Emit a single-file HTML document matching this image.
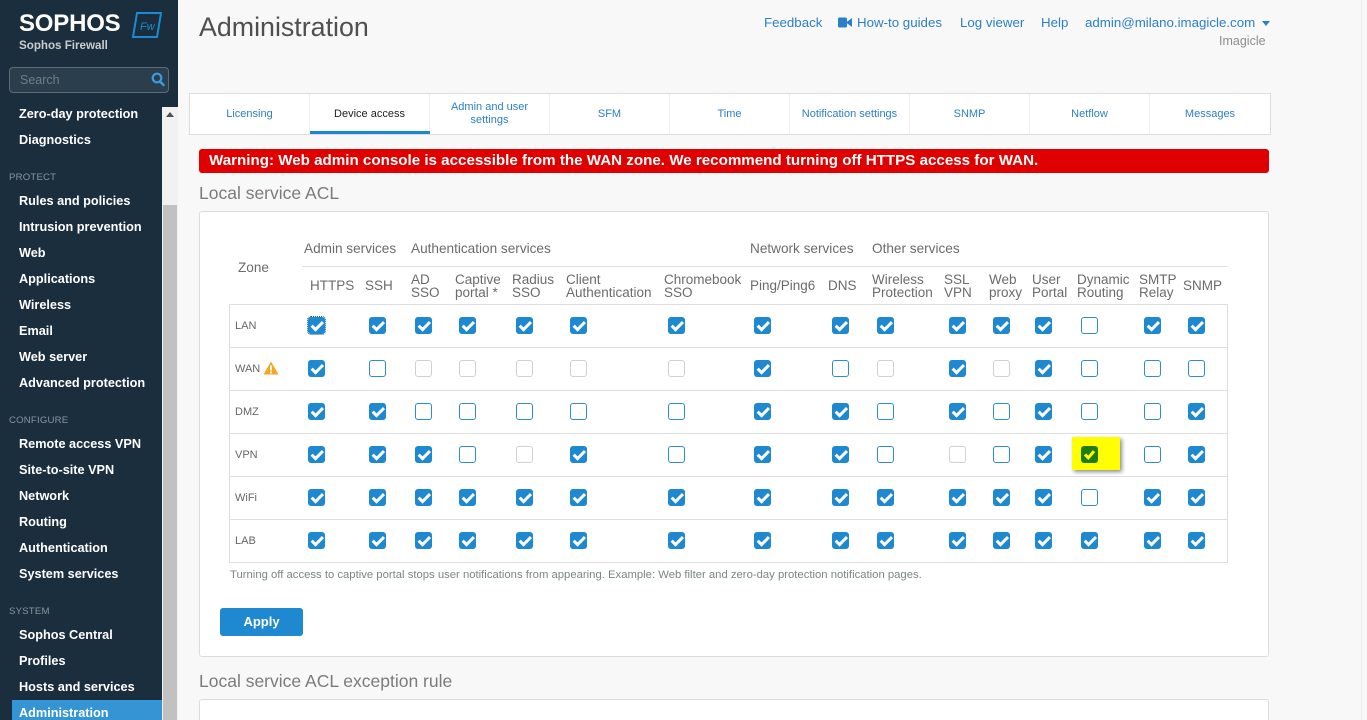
<!DOCTYPE html>
<html><head><meta charset="utf-8">
<style>
*{margin:0;padding:0;box-sizing:border-box}
html,body{width:1367px;height:720px;overflow:hidden;background:#f8f8f8;font-family:"Liberation Sans",Arial,sans-serif;position:relative}
.a{position:absolute;white-space:nowrap}
#side{position:absolute;left:0;top:0;width:162px;height:720px;background:#1b2e3d}
#sidetop{position:absolute;left:0;top:0;width:178px;height:107px;background:#1b2e3d}
.si{position:absolute;left:19px;color:#fff;font-weight:bold;font-size:12.7px;line-height:16px;white-space:nowrap;margin-top:1px}
.sh{position:absolute;left:9px;color:#8797a2;font-size:9.6px;line-height:12px;letter-spacing:0.2px;margin-top:1px}
.tab{position:absolute;top:94px;height:40px;width:120px;text-align:center;font-size:11px;color:#2b7fc5;display:flex;align-items:center;justify-content:center;line-height:13px;border-right:1px solid #f0f0f0}
.gh{position:absolute;font-size:13.6px;color:#6b6b6b;line-height:16px;white-space:nowrap}
.ch{position:absolute;font-size:13.5px;color:#6b6b6b;line-height:13px;white-space:nowrap}
.zl{position:absolute;left:235px;font-size:11px;color:#666;line-height:14px;margin-top:1px}
.hl{position:absolute;left:229px;width:998px;height:1px;background:#dedede}
.cb{position:absolute;width:17px;height:17px;border-radius:3px;display:block}
.on{background:#1e88d0}
.on::after{content:'';position:absolute;left:5.5px;top:2px;width:4px;height:8.5px;border:solid #fff;border-width:0 3px 3px 0;transform:rotate(45deg)}
.off{background:#fff;border:1.6px solid #2d8cd3}
.dis{background:#fff;border:1.6px solid #d0d0d0}
.c1{left:308px}.c2{left:369px}.c3{left:415px}.c4{left:459px}.c5{left:516px}.c6{left:570px}.c7{left:668px}.c8{left:754px}
.c9{left:832px}.c10{left:877px}.c11{left:949px}.c12{left:993px}.c13{left:1035px}.c14{left:1081px}.c15{left:1144px}.c16{left:1188px}
.r1{top:317px}.r2{top:360px}.r3{top:403px}.r4{top:446px}.r5{top:489px}.r6{top:532px}
.lk{position:absolute;top:15px;font-size:13.3px;color:#2b7fc9;line-height:16px;white-space:nowrap}
</style></head><body>

<!-- sidebar -->
<div id="sidetop"></div>
<div id="side"></div>
<div class="a" style="left:162px;top:107px;width:16px;height:613px;background:#f1f1f1"></div>
<div class="a" style="left:163px;top:205px;width:14px;height:515px;background:#c1c1c1"></div>
<div class="a" style="left:166px;top:112px;width:0;height:0;border-left:4px solid transparent;border-right:4px solid transparent;border-bottom:5px solid #505050"></div>

<div class="a" style="left:19px;top:9px;font-size:24px;font-weight:bold;color:#fff;line-height:30px;letter-spacing:-0.2px">SOPHOS</div>
<div class="a" style="left:19px;top:38px;font-size:11.6px;font-weight:bold;color:#c9cdd0;line-height:15px">Sophos Firewall</div>
<svg class="a" style="left:131px;top:11px" width="32" height="28" viewBox="0 0 32 28">
<polygon points="6,2 30,2 26,26 2,26" fill="none" stroke="#1c8ad6" stroke-width="2"/>
<text x="9" y="19" font-family="Liberation Sans" font-style="italic" font-size="11" fill="#1c8ad6">Fw</text>
</svg>
<div class="a" style="left:9px;top:67px;width:160px;height:26px;border:1px solid #5b6b77;border-radius:4px;background:#2b3e4c"></div>
<div class="a" style="left:20px;top:72px;font-size:12.5px;color:#6f7e89;line-height:16px">Search</div>
<svg class="a" style="left:151px;top:72px" width="14" height="15" viewBox="0 0 14 15"><circle cx="6" cy="6" r="4.3" fill="none" stroke="#3d9ae0" stroke-width="2.2"/><line x1="9" y1="9.5" x2="12.5" y2="13" stroke="#3d9ae0" stroke-width="2.6" stroke-linecap="round"/></svg>

<div class="si" style="top:105px">Zero-day protection</div>
<div class="si" style="top:131px">Diagnostics</div>
<div class="sh" style="top:171px">PROTECT</div>
<div class="si" style="top:192px">Rules and policies</div>
<div class="si" style="top:218px">Intrusion prevention</div>
<div class="si" style="top:244px">Web</div>
<div class="si" style="top:270px">Applications</div>
<div class="si" style="top:296px">Wireless</div>
<div class="si" style="top:322px">Email</div>
<div class="si" style="top:348px">Web server</div>
<div class="si" style="top:374px">Advanced protection</div>
<div class="sh" style="top:414px">CONFIGURE</div>
<div class="si" style="top:435px">Remote access VPN</div>
<div class="si" style="top:461px">Site-to-site VPN</div>
<div class="si" style="top:487px">Network</div>
<div class="si" style="top:513px">Routing</div>
<div class="si" style="top:539px">Authentication</div>
<div class="si" style="top:565px">System services</div>
<div class="sh" style="top:605px">SYSTEM</div>
<div class="si" style="top:626px">Sophos Central</div>
<div class="si" style="top:652px">Profiles</div>
<div class="si" style="top:678px">Hosts and services</div>
<div class="a" style="left:12px;top:700px;width:150px;height:20px;background:#3594d3"></div>
<div class="si" style="top:704px">Administration</div>

<!-- header -->
<div class="a" style="left:199px;top:11px;font-size:26.8px;color:#4f4f4f;line-height:32px">Administration</div>
<div class="lk" style="left:764px">Feedback</div>
<svg class="a" style="left:838px;top:17px" width="14" height="11" viewBox="0 0 14 11"><rect x="0" y="0.5" width="9" height="10" rx="1.5" fill="#2b7fc9"/><polygon points="8,5.5 14,1 14,10" fill="#2b7fc9"/></svg>
<div class="lk" style="left:857px">How-to guides</div>
<div class="lk" style="left:960px">Log viewer</div>
<div class="lk" style="left:1041px">Help</div>
<div class="lk" style="left:1085px">admin@milano.imagicle.com</div>
<div class="a" style="left:1262px;top:21px;width:0;height:0;border-left:4px solid transparent;border-right:4px solid transparent;border-top:5px solid #2b7fc9"></div>
<div class="a" style="left:1219px;top:33px;font-size:12.5px;color:#8c8c8c;line-height:16px">Imagicle</div>

<!-- tabs -->
<div class="a" style="left:189px;top:93px;width:1082px;height:42px;background:#fff;border:1px solid #dcdcdc"></div>
<div class="tab" style="left:190px">Licensing</div>
<div class="tab" style="left:310px;color:#222">Device access</div>
<div class="a" style="left:310px;top:131px;width:120px;height:3px;background:#1a87cf"></div>
<div class="tab" style="left:430px">Admin and user<br>settings</div>
<div class="tab" style="left:550px">SFM</div>
<div class="tab" style="left:670px">Time</div>
<div class="tab" style="left:790px">Notification settings</div>
<div class="tab" style="left:910px">SNMP</div>
<div class="tab" style="left:1030px">Netflow</div>
<div class="tab" style="left:1150px;border-right:none">Messages</div>

<!-- warning -->
<div class="a" style="left:199px;top:149px;width:1070px;height:24px;background:#e00000;border-radius:3px"></div>
<div class="a" style="left:209px;top:152px;font-size:15.15px;font-weight:bold;color:#fff;line-height:18px;letter-spacing:0px">Warning: Web admin console is accessible from the WAN zone. We recommend turning off HTTPS access for WAN.</div>

<div class="a" style="left:199px;top:182px;font-size:17.5px;color:#7b7b7b;line-height:22px">Local service ACL</div>

<!-- panel -->
<div class="a" style="left:199px;top:211px;width:1070px;height:446px;background:#fff;border:1px solid #dcdcdc;border-radius:3px"></div>

<div class="gh" style="left:238px;top:260px">Zone</div>
<div class="gh" style="left:304px;top:241px">Admin services</div>
<div class="gh" style="left:411px;top:241px">Authentication services</div>
<div class="gh" style="left:750px;top:241px">Network services</div>
<div class="gh" style="left:872px;top:241px">Other services</div>
<div class="a" style="left:302px;top:266px;width:925px;height:1px;background:#dedede"></div>

<div class="ch" style="left:310px;top:279px">HTTPS</div>
<div class="ch" style="left:365px;top:279px">SSH</div>
<div class="ch" style="left:411px;top:273px">AD<br>SSO</div>
<div class="ch" style="left:455px;top:273px">Captive<br>portal *</div>
<div class="ch" style="left:512px;top:273px">Radius<br>SSO</div>
<div class="ch" style="left:566px;top:273px">Client<br>Authentication</div>
<div class="ch" style="left:664px;top:273px">Chromebook<br>SSO</div>
<div class="ch" style="left:750px;top:279px">Ping/Ping6</div>
<div class="ch" style="left:828px;top:279px">DNS</div>
<div class="ch" style="left:872px;top:273px">Wireless<br>Protection</div>
<div class="ch" style="left:944px;top:273px">SSL<br>VPN</div>
<div class="ch" style="left:989px;top:273px">Web<br>proxy</div>
<div class="ch" style="left:1032px;top:273px">User<br>Portal</div>
<div class="ch" style="left:1077px;top:273px">Dynamic<br>Routing</div>
<div class="ch" style="left:1139px;top:273px">SMTP<br>Relay</div>
<div class="ch" style="left:1183px;top:279px">SNMP</div>

<div class="hl" style="top:304px"></div>
<div class="hl" style="top:347px"></div>
<div class="hl" style="top:390px"></div>
<div class="hl" style="top:433px"></div>
<div class="hl" style="top:476px"></div>
<div class="hl" style="top:519px"></div>
<div class="hl" style="top:562px"></div>
<div class="a" style="left:229px;top:304px;width:1px;height:259px;background:#dedede"></div>
<div class="a" style="left:1227px;top:304px;width:1px;height:259px;background:#dedede"></div>

<div class="zl" style="top:318px">LAN</div>
<div class="zl" style="top:361px">WAN</div>
<svg class="a" style="left:263px;top:361px" width="16" height="14" viewBox="0 0 16 14"><polygon points="8,0.5 15.5,13.5 0.5,13.5" fill="#f5a623"/><rect x="7.1" y="4.5" width="1.8" height="5" fill="#fff"/><rect x="7.1" y="10.6" width="1.8" height="1.8" fill="#fff"/></svg>
<div class="zl" style="top:404px">DMZ</div>
<div class="zl" style="top:447px">VPN</div>
<div class="zl" style="top:490px">WiFi</div>
<div class="zl" style="top:533px">LAB</div>

<!-- LAN -->
<i class="cb on c1 r1" style="outline:1px dotted #1a5f9f;outline-offset:0px"></i><i class="cb on c2 r1"></i><i class="cb on c3 r1"></i><i class="cb on c4 r1"></i><i class="cb on c5 r1"></i><i class="cb on c6 r1"></i><i class="cb on c7 r1"></i><i class="cb on c8 r1"></i><i class="cb on c9 r1"></i><i class="cb on c10 r1"></i><i class="cb on c11 r1"></i><i class="cb on c12 r1"></i><i class="cb on c13 r1"></i><i class="cb off c14 r1"></i><i class="cb on c15 r1"></i><i class="cb on c16 r1"></i>
<!-- WAN -->
<i class="cb on c1 r2"></i><i class="cb off c2 r2"></i><i class="cb dis c3 r2"></i><i class="cb dis c4 r2"></i><i class="cb dis c5 r2"></i><i class="cb dis c6 r2"></i><i class="cb dis c7 r2"></i><i class="cb on c8 r2"></i><i class="cb off c9 r2"></i><i class="cb dis c10 r2"></i><i class="cb on c11 r2"></i><i class="cb dis c12 r2"></i><i class="cb on c13 r2"></i><i class="cb off c14 r2"></i><i class="cb off c15 r2"></i><i class="cb off c16 r2"></i>
<!-- DMZ -->
<i class="cb on c1 r3"></i><i class="cb on c2 r3"></i><i class="cb off c3 r3"></i><i class="cb off c4 r3"></i><i class="cb off c5 r3"></i><i class="cb off c6 r3"></i><i class="cb off c7 r3"></i><i class="cb on c8 r3"></i><i class="cb on c9 r3"></i><i class="cb off c10 r3"></i><i class="cb on c11 r3"></i><i class="cb off c12 r3"></i><i class="cb on c13 r3"></i><i class="cb off c14 r3"></i><i class="cb off c15 r3"></i><i class="cb on c16 r3"></i>
<!-- VPN -->
<i class="cb on c1 r4"></i><i class="cb on c2 r4"></i><i class="cb on c3 r4"></i><i class="cb off c4 r4"></i><i class="cb dis c5 r4"></i><i class="cb on c6 r4"></i><i class="cb off c7 r4"></i><i class="cb on c8 r4"></i><i class="cb on c9 r4"></i><i class="cb off c10 r4"></i><i class="cb dis c11 r4"></i><i class="cb off c12 r4"></i><i class="cb on c13 r4"></i><i class="cb off c15 r4"></i><i class="cb on c16 r4"></i>
<div class="a" style="left:1072px;top:437px;width:48px;height:33px;background:#ffff00;box-shadow:2px 2px 4px rgba(0,0,0,0.45)"></div>
<svg class="a" style="left:1081px;top:446px" width="17" height="17" viewBox="0 0 17 17"><rect x="0" y="0" width="17" height="17" rx="3" fill="#217c10"/><polyline points="4,8.5 7.3,11.8 13,5.2" fill="none" stroke="#ffff00" stroke-width="3"/></svg>
<!-- WiFi -->
<i class="cb on c1 r5"></i><i class="cb on c2 r5"></i><i class="cb on c3 r5"></i><i class="cb on c4 r5"></i><i class="cb on c5 r5"></i><i class="cb on c6 r5"></i><i class="cb on c7 r5"></i><i class="cb on c8 r5"></i><i class="cb on c9 r5"></i><i class="cb on c10 r5"></i><i class="cb on c11 r5"></i><i class="cb on c12 r5"></i><i class="cb on c13 r5"></i><i class="cb off c14 r5"></i><i class="cb on c15 r5"></i><i class="cb on c16 r5"></i>
<!-- LAB -->
<i class="cb on c1 r6"></i><i class="cb on c2 r6"></i><i class="cb on c3 r6"></i><i class="cb on c4 r6"></i><i class="cb on c5 r6"></i><i class="cb on c6 r6"></i><i class="cb on c7 r6"></i><i class="cb on c8 r6"></i><i class="cb on c9 r6"></i><i class="cb on c10 r6"></i><i class="cb on c11 r6"></i><i class="cb on c12 r6"></i><i class="cb on c13 r6"></i><i class="cb on c14 r6"></i><i class="cb on c15 r6"></i><i class="cb on c16 r6"></i>

<div class="a" style="left:230px;top:568px;font-size:11.3px;color:#7a8585;line-height:14px">Turning off access to captive portal stops user notifications from appearing. Example: Web filter and zero-day protection notification pages.</div>

<div class="a" style="left:220px;top:608px;width:83px;height:28px;background:#1e88d0;border-radius:3px;color:#fff;font-weight:bold;font-size:13px;line-height:28px;text-align:center">Apply</div>

<div class="a" style="left:199px;top:670px;font-size:17.5px;color:#7b7b7b;line-height:22px">Local service ACL exception rule</div>
<div class="a" style="left:199px;top:699px;width:1070px;height:40px;background:#fff;border:1px solid #dcdcdc;border-radius:3px"></div>
<div class="a" style="left:1361px;top:0;width:1px;height:720px;background:#ececec"></div>
</body></html>
